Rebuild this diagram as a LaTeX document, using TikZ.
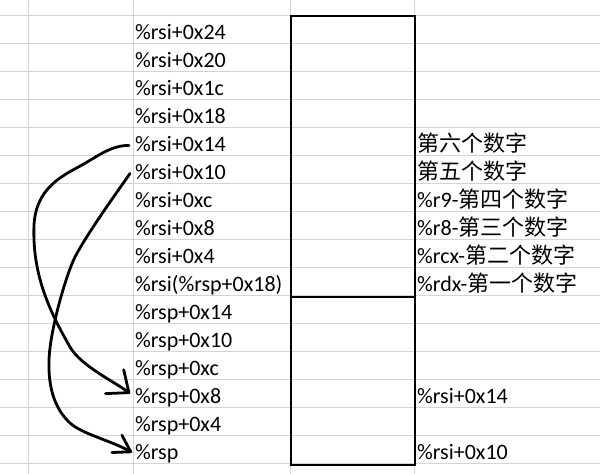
\documentclass[tikz,border=0pt]{standalone}
\usepackage{fontspec}
\setmainfont{Carlito}
\newfontfamily\cjk{Noto Sans CJK SC}
\usetikzlibrary{arrows.meta,positioning}
\definecolor{gridgray}{RGB}{212,212,212}

\begin{document}
\begin{tikzpicture}[x=1pt,y=-1pt,
addr/.style={anchor=base west,inner sep=0pt,text height=15pt,text depth=4pt,
font=\fontsize{22}{26}\selectfont},
frame/.style={draw=black,line width=2pt,anchor=north west,minimum width=124pt,inner sep=0pt},
hand/.style={line width=2.8pt,line cap=round,line join=round}]
\useasboundingbox (0,0) rectangle (600,474);
% sheet grid
\foreach \k in {0,...,16} \draw[gridgray] (0,{15+28*\k}) -- (600,{15+28*\k});
\foreach \x in {28,133,290,414} \draw[gridgray] (\x,0) -- (\x,474);
% stack frame
\node[frame,minimum height=281pt] (upper) at (290,15) {};
\node[frame,minimum height=168pt] (lower) at (290,296) {};
% addresses
\foreach \t [count=\i from 0] in {\%rsi+0x24,\%rsi+0x20,\%rsi+0x1c,\%rsi+0x18,\%rsi+0x14,
\%rsi+0x10,\%rsi+0xc,\%rsi+0x8,\%rsi+0x4,\%rsi(\%rsp+0x18),\%rsp+0x14,\%rsp+0x10,
\%rsp+0xc,\%rsp+0x8,\%rsp+0x4,\%rsp}
\node[addr] (l\i) at (135,{39+28*\i}) {\t};
% contents
\foreach \i/\t in {4/{\cjk 第六个数字},5/{\cjk 第五个数字},6/\%r9-{\cjk 第四个数字},
7/\%r8-{\cjk 第三个数字},8/\%rcx-{\cjk 第二个数字},9/\%rdx-{\cjk 第一个数字},
13/\%rsi+0x14,15/\%rsi+0x10}
\node[addr] (r\i) at (417,{39+28*\i}) {\t};
% hand-drawn arrows
\draw[hand,-{Straight Barb[length=18pt,width=30pt,round]}] ([xshift=-6pt]l4.west)
.. controls (112,145) and (98,156) .. (82,165) .. controls (62,176) and (36,188) .. (34,225)
.. controls (32,275) and (50,312) .. (70,347) .. controls (81,366) and (115,382) ..
([xshift=-5pt,yshift=4pt]l13.west);
\draw[hand,-{Straight Barb[length=16pt,width=20pt,round]}] ([xshift=-5pt]l5.west)
.. controls (120,188) and (88,232) .. (75,257) .. controls (66,275) and (50,330) .. (49,360)
.. controls (48,390) and (56,410) .. (70,423) .. controls (82,434) and (112,441) ..
([xshift=-3pt,yshift=1pt]l15.west);
\end{tikzpicture}
\end{document}
